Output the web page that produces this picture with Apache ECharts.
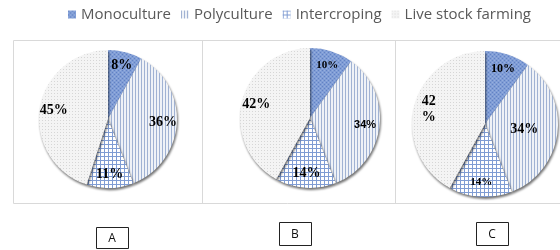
<!DOCTYPE html>
<html>
<head>
<meta charset="utf-8">
<script src="https://cdn.jsdelivr.net/npm/echarts@6/dist/echarts.min.js"></script>
<style>
  html, body { margin: 0; padding: 0; background: #fff; }
  #chart { width: 560px; height: 250px; }
</style>
</head>
<body>
<div id="chart"></div>
<script>
// farming systems, share per site (%)
const categories = ['Monoculture', 'Polyculture', 'Intercroping', 'Live stock farming'];
const panels = ['A', 'B', 'C'];
const shareA = [8, 36, 11, 45];
const shareB = [10, 34, 14, 42];
const shareC = [10, 34, 14, 42];

// little canvas textures, like the office hatch fills
function texture(w, h, bg, paint) {
    let c = document.createElement('canvas');
    c.width = w;
    c.height = h;
    let g = c.getContext('2d');
    g.fillStyle = bg;
    g.fillRect(0, 0, w, h);
    paint(g);
    return {image: c, repeat: 'repeat'};
}

const fills = [
    texture(4, 4, '#809dd6', function (g) {
        g.fillStyle = '#6282c3';
        g.fillRect(0, 0, 1, 1);
        g.fillRect(2, 2, 1, 1);
        g.fillStyle = '#97afdd';
        g.fillRect(2, 0, 1, 1);
        g.fillRect(0, 2, 1, 1);
    }),
    texture(3, 1, '#eff2f7', function (g) {
        g.fillStyle = '#a0b2d3';
        g.fillRect(0, 0, 1, 1);
    }),
    texture(4, 4, '#ffffff', function (g) {
        g.fillStyle = '#7f9cd3';
        g.fillRect(0, 0, 4, 1);
        g.fillRect(0, 0, 1, 4);
    }),
    texture(3, 3, '#f4f4f4', function (g) {
        g.fillStyle = '#d6d6d6';
        g.fillRect(0, 0, 1, 1);
    })
];

// pie geometry per panel
const centers = [[108, 119], [310, 118], [485, 124]];
const radii = [69, 70, 73];

// label looks per panel / slice
const labelLook = {
    A: [{fontSize: 14}, {fontSize: 14}, {fontSize: 14}, {fontSize: 14}],
    B: [{fontSize: 11}, {fontSize: 11, fontFamily: 'Liberation Sans'}, {fontSize: 14}, {fontSize: 14}],
    C: [{fontSize: 12}, {fontSize: 14, inner: true}, {fontSize: 11}, {fontSize: 14, split: true}]
};

function seriesFor(idx, values) {
    let name = panels[idx];
    let look = labelLook[name];
    let base = [];
    let over = [];
    for (let i = 0; i < values.length; i++) {
        let lk = look[i];
        let lab = {
            show: true,
            color: '#000',
            fontFamily: lk.fontFamily || 'Liberation Serif',
            fontWeight: 'bold',
            fontSize: lk.fontSize,
            lineHeight: lk.fontSize + 2,
            formatter: lk.split ? '{c}\n%' : '{c}%'
        };
        base.push({
            name: categories[i],
            value: values[i],
            itemStyle: {color: fills[i]},
            label: lk.inner ? lab : {show: false}
        });
        over.push({
            name: categories[i],
            value: values[i],
            label: lk.inner ? {show: false} : lab
        });
    }
    return [
        {
            name: name,
            type: 'pie',
            center: centers[idx],
            radius: [0, radii[idx]],
            startAngle: 90,
            clockwise: true,
            silent: true,
            label: {position: 'inside'},
            labelLine: {show: false},
            itemStyle: {
                borderWidth: 0,
                shadowColor: 'rgba(0,0,0,0.55)',
                shadowBlur: 2,
                shadowOffsetX: 1,
                shadowOffsetY: 2
            },
            data: base
        },
        {
            // transparent ring, only here to hold the labels further out
            name: name + '-labels',
            type: 'pie',
            center: centers[idx],
            radius: [Math.round(radii[idx] * 0.5), radii[idx]],
            startAngle: 90,
            clockwise: true,
            silent: true,
            z: 3,
            label: {position: 'inside'},
            labelLine: {show: false},
            itemStyle: {color: 'rgba(0,0,0,0)', borderWidth: 0},
            data: over
        }
    ];
}

let series = [];
[shareA, shareB, shareC].forEach(function (v, i) {
    series = series.concat(seriesFor(i, v));
});

// panel frames and the A / B / C tags
const boxes = [[96, 227, 32, 21], [279, 222, 32, 23], [476, 222, 32, 23]];
let graphics = [
    {type: 'rect', shape: {x: 13.5, y: 40.5, width: 560, height: 163}, style: {fill: null, stroke: '#d9d9d9', lineWidth: 1}},
    {type: 'line', shape: {x1: 202.5, y1: 40.5, x2: 202.5, y2: 203.5}, style: {stroke: '#d9d9d9', lineWidth: 1}},
    {type: 'line', shape: {x1: 395.5, y1: 40.5, x2: 395.5, y2: 203.5}, style: {stroke: '#d9d9d9', lineWidth: 1}}
];
for (let i = 0; i < panels.length; i++) {
    let b = boxes[i];
    graphics.push({type: 'rect', shape: {x: b[0] + 0.5, y: b[1] + 0.5, width: b[2], height: b[3]}, style: {fill: '#fff', stroke: '#222', lineWidth: 1}});
    graphics.push({
        type: 'text',
        x: b[0] + b[2] / 2, y: b[1] + b[3] / 2 + 1,
        style: {text: panels[i], fill: '#111', font: '12px "Open Sans"', textAlign: 'center', textVerticalAlign: 'middle'}
    });
}

var chart = echarts.init(document.getElementById('chart'));

var option = {
    animation: false,
    legend: {
        data: categories,
        left: 63,
        top: 2,
        icon: 'rect',
        itemWidth: 8,
        itemHeight: 8,
        itemGap: 10,
        selectedMode: false,
        itemStyle: {shadowBlur: 0, shadowOffsetX: 0, shadowOffsetY: 0},
        textStyle: {color: '#595959', fontSize: 15, fontFamily: 'Open Sans'}
    },
    graphic: graphics,
    series: series
};
chart.setOption(option);
</script>
</body>
</html>
